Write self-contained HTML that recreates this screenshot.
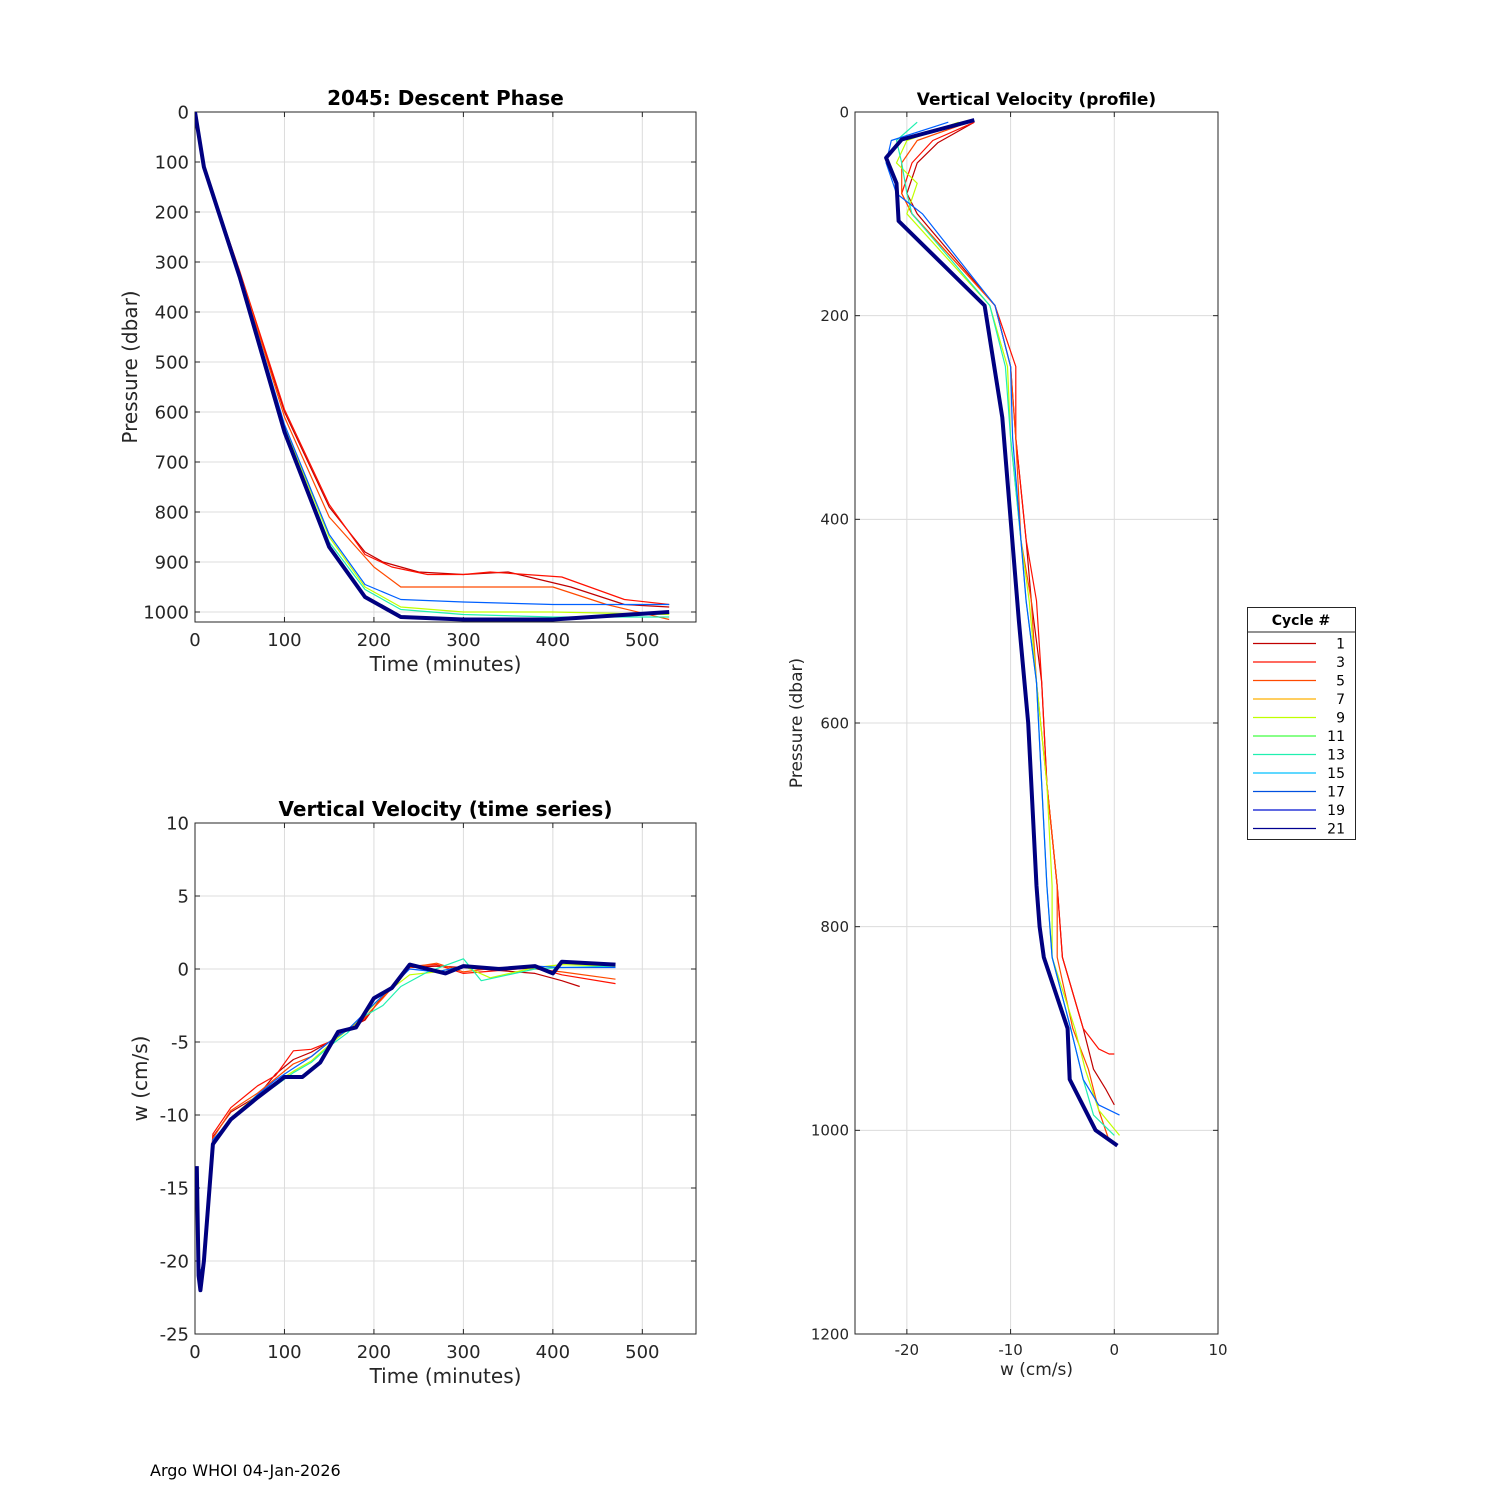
<!DOCTYPE html>
<html><head><meta charset="utf-8">
<style>
html,body{margin:0;padding:0;background:#fff;}
svg{display:block;font-family:"DejaVu Sans","Liberation Sans",sans-serif;}
</style></head>
<body>
<svg id="fig" width="1500" height="1500" viewBox="0 0 1500 1500" xmlns="http://www.w3.org/2000/svg">
<rect width="1500" height="1500" fill="#fff"/>
<text x="150" y="1476" font-size="16" fill="#000">Argo WHOI 04-Jan-2026</text>
</svg>
<script>
// ---- data ----
const cycles = [1, 3, 5, 9, 13, 17, 21];
const cycleColors = ["#c00000", "#ff1000", "#ff4a00", "#c0ff00", "#20f0b0", "#0060ff", "#000080"];
const legendCycles = [1,3,5,7,9,11,13,15,17,19,21];
const legendColors = ["#c00000","#ff1000","#ff4a00","#ffb000","#c0ff00","#40ff40","#20f0b0","#00c0ff","#0050e0","#0010d0","#000090"];

// descent: time (min), pressure (dbar)
const descT = [
 [0,10,50,100,150,190,210,250,300,350,420,480,530],
 [0,10,50,100,150,190,220,260,300,330,370,410,480,530],
 [0,10,50,100,150,200,230,300,400,460,530],
 [0,10,50,100,150,190,230,300,400,530],
 [0,10,50,100,150,190,230,300,400,530],
 [0,10,50,100,150,190,230,300,400,530],
 [0,10,50,100,150,190,230,300,400,530]
];
const descP = [
 [0,110,320,600,790,880,900,920,925,920,950,985,990],
 [0,110,318,595,785,885,910,925,925,920,925,930,975,985],
 [0,110,320,610,810,910,950,950,950,985,1015],
 [0,110,325,630,850,950,990,1000,1000,1005],
 [0,110,328,635,860,955,995,1005,1010,1010],
 [0,110,322,625,845,945,975,980,985,985],
 [0,110,330,640,870,970,1010,1015,1015,1000]
];
// velocity time series: time (min), w (cm/s)
const velT = [
 [3,5,10,20,40,70,90,110,130,150,170,190,210,240,270,300,340,380,410,430],
 [3,5,10,20,40,70,90,110,130,150,170,190,210,240,270,300,340,380,410,470],
 [3,5,10,20,40,70,90,110,130,150,170,190,210,240,270,300,340,380,410,470],
 [3,5,10,20,40,70,90,110,130,150,170,190,210,240,270,300,330,380,410,470],
 [3,5,10,20,40,70,90,110,130,150,170,190,210,230,260,300,320,380,410,470],
 [3,5,10,20,40,70,90,110,130,150,170,190,210,240,270,300,340,380,410,470],
 [2,4,6,10,20,40,70,100,120,140,160,180,200,220,240,280,300,340,380,400,410,470]
];
const velW = [
 [-14,-21,-20,-11.5,-9.8,-8.7,-7.2,-6.2,-5.7,-5,-4.1,-3.5,-1.8,0.1,0.2,0.1,-0.1,-0.3,-0.8,-1.2],
 [-14,-21,-20,-11.3,-9.5,-8,-7.3,-5.6,-5.5,-5,-4.2,-3.4,-1.9,0.2,0.3,-0.3,-0.1,0.1,-0.4,-1],
 [-14,-21,-20,-11.6,-9.7,-8.5,-7.5,-6.5,-6,-5,-4.2,-3.3,-2,0.1,0.4,-0.2,0.1,0,-0.2,-0.7],
 [-14,-21,-20,-11.8,-10.2,-8.6,-7.8,-7,-6.3,-5.2,-4.2,-3.1,-1.8,-0.4,-0.2,0.2,-0.6,0.1,0.3,0.2],
 [-14,-21,-20,-11.9,-10.4,-8.8,-8,-7.1,-6.4,-5.3,-4.4,-3.2,-2.5,-1.2,-0.2,0.7,-0.8,0,0.1,0.2],
 [-14,-21,-20,-11.7,-10.3,-8.6,-7.6,-6.8,-6,-5,-4.2,-3,-1.8,0,-0.2,0.2,0,0.2,0.1,0.1],
 [-13.5,-21,-22,-20,-12,-10.3,-8.8,-7.4,-7.4,-6.4,-4.3,-4,-2,-1.3,0.3,-0.3,0.2,0,0.2,-0.3,0.5,0.3]
];
// velocity profile: w (cm/s), pressure (dbar)
const profW = [
 [-13.5,-17,-19,-20,-19,-11.5,-10,-9.5,-8.5,-8,-7,-6.5,-5.5,-5,-3,-2,-0.8,0],
 [-13.5,-17.5,-19.5,-20.5,-19.5,-11.5,-9.5,-9.5,-8.5,-7.5,-7,-6.5,-5.5,-5,-3,-1.5,-0.5,0],
 [-14,-19,-20.5,-20.5,-19.5,-11.5,-10,-9.5,-9,-8,-7.5,-6.5,-5.5,-5.5,-4,-2.5,-1.5,-0.5],
 [-15,-20,-21,-19,-20,-12,-10.3,-10,-9,-8.2,-7.5,-6.5,-6,-6,-3.8,-2.8,-1.5,0.5],
 [-19,-21,-20.5,-20,-19.5,-12,-10.5,-10,-9,-8.5,-7.5,-7,-6.5,-6,-4.2,-3,-2,0],
 [-16,-21.5,-22,-21,-18.5,-11.5,-10,-9.8,-9,-8.5,-7.5,-7,-6.5,-6,-4.2,-3,-1.5,0.5],
 [-13.5,-20.5,-22,-21,-20.8,-12.5,-10.8,-10,-9.2,-8.3,-7.8,-7.5,-7.2,-6.8,-4.5,-4.3,-1.8,0.3]
];
const profP = [
 [10,30,50,80,100,190,250,320,420,480,560,660,760,830,900,940,960,975],
 [10,28,50,80,100,190,250,320,420,480,560,660,760,830,900,920,925,925],
 [10,28,50,80,100,190,250,320,420,480,560,660,760,830,900,940,980,1010],
 [10,28,50,70,100,190,250,320,420,480,560,660,760,830,900,940,980,1005],
 [10,28,50,80,100,190,250,320,420,480,560,660,760,830,900,950,985,1005],
 [10,28,50,80,100,190,250,320,420,480,560,660,760,830,900,950,975,985],
 [8,27,45,70,107,190,300,400,500,600,700,760,800,830,900,950,1000,1015]
];
const xTicksTime = [0,100,200,300,400,500];
const yTicksDesc = [0,100,200,300,400,500,600,700,800,900,1000];
const yTicksVel = [10,5,0,-5,-10,-15,-20,-25];
const xTicksProf = [-20,-10,0,10];
const yTicksProf = [0,200,400,600,800,1000,1200];

// ---- helpers ----
const svg = document.getElementById('fig');
const NS = 'http://www.w3.org/2000/svg';
function mk(tag, attrs, parent){ const e=document.createElementNS(NS,tag); for(const k in attrs) e.setAttribute(k,attrs[k]); (parent||svg).appendChild(e); return e; }
function scale(d0,d1,r0,r1){ return v => r0 + (v-d0)*(r1-r0)/(d1-d0); }

function axes(o){
  const g = mk('g',{});
  
  
  const sx=o.sx, sy=o.sy;
  o.xt.forEach(v=>{ const x=sx(v);
    const gl=mk('line',{x1:x,x2:x,y1:o.t,y2:o.b,stroke:'#dcdcdc','stroke-width':1},g);
     
    mk('line',{x1:x,x2:x,y1:o.b,y2:o.b-5,stroke:'#262626'},g);
    mk('line',{x1:x,x2:x,y1:o.t,y2:o.t+5,stroke:'#262626'},g);
    const t=mk('text',{x:x,y:o.b+o.fs+6,'font-size':o.fs,'text-anchor':'middle',fill:'#262626'},g); t.textContent=String(v);
     
  });
  o.yt.forEach(v=>{ const y=sy(v);
    const gl=mk('line',{x1:o.l,x2:o.r,y1:y,y2:y,stroke:'#dcdcdc','stroke-width':1},g);
     
    mk('line',{x1:o.l,x2:o.l+5,y1:y,y2:y,stroke:'#262626'},g);
    mk('line',{x1:o.r,x2:o.r-5,y1:y,y2:y,stroke:'#262626'},g);
    const t=mk('text',{x:o.l-6,y:y+o.fs*0.36,'font-size':o.fs,'text-anchor':'end',fill:'#262626'},g); t.textContent=String(v);
     
  });
  const box=mk('rect',{x:o.l,y:o.t,width:o.r-o.l,height:o.b-o.t,fill:'none',stroke:'#262626','stroke-width':1},g);
   
  const ti=mk('text',{x:(o.l+o.r)/2,y:o.t-7,'font-size':o.tfs,'font-weight':'bold','text-anchor':'middle',fill:'#000'},g); ti.textContent=o.title;
   
  const xl=mk('text',{x:(o.l+o.r)/2,y:o.b+o.xly,'font-size':o.lfs,'text-anchor':'middle',fill:'#262626'},g); xl.textContent=o.xl;
   
  const cy=(o.t+o.b)/2, cx=o.l-o.ylx;
  const yl=mk('text',{x:cx,y:cy,'font-size':o.lfs,'text-anchor':'middle',fill:'#262626',transform:`rotate(-90 ${cx} ${cy})`},g); yl.textContent=o.yl;
   
  return g;
}
function series(xs, ys, sx, sy, color, w, clip, name){
  const pts = xs.map((v,i)=>sx(v).toFixed(1)+','+sy(ys[i]).toFixed(1)).join(' ');
  const p = mk('polyline',{points:pts,fill:'none',stroke:color,'stroke-width':w,'stroke-linejoin':'round','clip-path':clip});
  
  
}
const defs = mk('defs',{});
function clip(id,l,t,r,b){ const c=mk('clipPath',{id:id},defs); mk('rect',{x:l,y:t,width:r-l,height:b-t},c); return `url(#${id})`; }

// ---- panel 1: descent ----
const s1x=scale(0,560,195,696), s1y=scale(0,1020,112,622);
axes({name:'descent-phase-axes',l:195,r:696,t:112,b:622,sx:s1x,sy:s1y,xt:xTicksTime,yt:yTicksDesc,fs:18,tfs:20,lfs:20,title:'2045: Descent Phase',xl:'Time (minutes)',yl:'Pressure (dbar)',xly:49,ylx:58});
const c1=clip('c1',195,112,696,622);
cycles.forEach((c,i)=>series(descT[i],descP[i],s1x,s1y,cycleColors[i],i===cycles.length-1?4:1.2,c1,'descent-line-cycle-'+c));

// ---- panel 2: velocity time series ----
const s2x=scale(0,560,195,696), s2y=scale(10,-25,823,1334);
axes({name:'velocity-time-series-axes',l:195,r:696,t:823,b:1334,sx:s2x,sy:s2y,xt:xTicksTime,yt:yTicksVel,fs:18,tfs:20,lfs:20,title:'Vertical Velocity (time series)',xl:'Time (minutes)',yl:'w (cm/s)',xly:49,ylx:48});
const c2=clip('c2',195,823,696,1334);
cycles.forEach((c,i)=>series(velT[i],velW[i],s2x,s2y,cycleColors[i],i===cycles.length-1?4:1.2,c2,'velocity-line-cycle-'+c));

// ---- panel 3: velocity profile ----
const s3x=scale(-25,10,855,1218), s3y=scale(0,1200,112,1334);
axes({name:'velocity-profile-axes',l:855,r:1218,t:112,b:1334,sx:s3x,sy:s3y,xt:xTicksProf,yt:yTicksProf,fs:15,tfs:17,lfs:17,title:'Vertical Velocity (profile)',xl:'w (cm/s)',yl:'Pressure (dbar)',xly:41,ylx:53});
const c3=clip('c3',855,112,1218,1334);
cycles.forEach((c,i)=>series(profW[i],profP[i],s3x,s3y,cycleColors[i],i===cycles.length-1?4:1.2,c3,'profile-line-cycle-'+c));

// ---- legend ----
const lg=mk('g',{});


mk('rect',{x:1247.5,y:607.5,width:108,height:232,fill:'#fff',stroke:'#262626'},lg);
mk('line',{x1:1247.5,x2:1355.5,y1:632,y2:632,stroke:'#262626'},lg);
const lt=mk('text',{x:1301,y:625,'font-size':14,'font-weight':'bold','text-anchor':'middle'},lg); lt.textContent='Cycle #';
 
legendCycles.forEach((c,i)=>{
  const y=643.5+i*18.5;
  const e=mk('g',{},lg);
  
  
  mk('line',{x1:1253,x2:1316,y1:y,y2:y,stroke:legendColors[i],'stroke-width':1.2},e);
  const t=mk('text',{x:1345,y:y+5,'font-size':14,'text-anchor':'end',fill:'#000'},e); t.textContent=c;
});
</script>
</body></html>
